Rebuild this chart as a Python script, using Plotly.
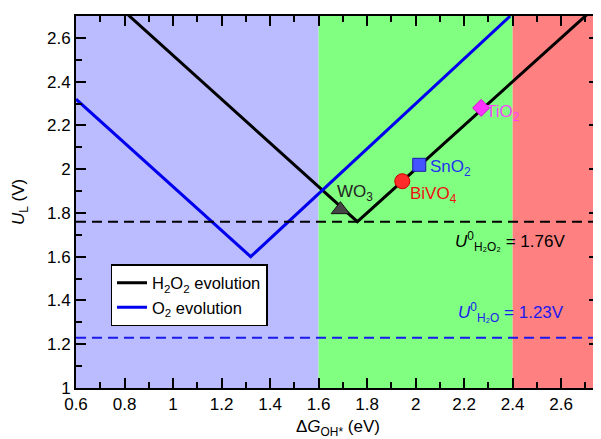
import plotly.graph_objects as go

# ---- data ----
h2o2_x = [0.60, 1.76, 2.76]
h2o2_y = [2.92, 1.76, 2.76]
o2_x = [0.60, 1.32, 2.39]
o2_y = [2.32, 1.60, 2.70]

materials = ["WO3", "BiVO4", "SnO2", "TiO2"]
mat_labels = ["WO<sub>3</sub>", "BiVO<sub>4</sub>", "SnO<sub>2</sub>", "TiO<sub>2</sub>"]
mat_x = [1.69, 1.945, 2.015, 2.27]
mat_y = [1.815, 1.945, 2.02, 2.28]
mat_symbols = ["triangle-up", "circle", "square", "diamond"]
mat_sizes = [16, 15, 13, 13]
mat_colors = ["#444444", "#ff2a2a", "#4455ff", "#ff33ff"]
mat_edge = ["#111111", "#cc0000", "#1a1aaa", "#dd00dd"]
mat_text_colors = ["#222222", "#ee1111", "#2233ee", "#ff44ff"]
mat_label_x = [1.75, 2.075, 2.145, 2.36]
mat_label_y = [1.89, 1.88, 2.005, 2.255]

u_h2o2 = 1.76
u_h2o = 1.23

region_edges = [0.6, 1.6, 2.4, 2.76]
region_colors = ["#bbbbff", "#80ff80", "#ff8080"]

x_range = [0.6, 2.756]
y_range = [1.0, 2.7]

FONT = "Liberation Sans, Arial, Helvetica, sans-serif"

fig = go.Figure()

for i, c in enumerate(region_colors):
    fig.add_shape(type="rect", xref="x", yref="y",
                  x0=region_edges[i], x1=region_edges[i + 1],
                  y0=y_range[0], y1=y_range[1],
                  fillcolor=c, line_width=0, layer="below")

fig.add_hline(y=u_h2o2, line=dict(color="black", width=2, dash="10px,6px"))
fig.add_hline(y=u_h2o, line=dict(color="#1a1aee", width=2, dash="10px,6px"))

fig.add_trace(go.Scatter(x=h2o2_x, y=h2o2_y, mode="lines",
                         line=dict(color="black", width=3),
                         name="H<sub>2</sub>O<sub>2</sub> evolution"))
fig.add_trace(go.Scatter(x=o2_x, y=o2_y, mode="lines",
                         line=dict(color="#0000ee", width=3),
                         name="O<sub>2</sub> evolution"))

for i, m in enumerate(materials):
    fig.add_trace(go.Scatter(x=[mat_x[i]], y=[mat_y[i]], mode="markers",
                             marker=dict(symbol=mat_symbols[i], size=mat_sizes[i],
                                         color=mat_colors[i],
                                         line=dict(color=mat_edge[i], width=1)),
                             showlegend=False, name=m))
    fig.add_annotation(x=mat_label_x[i], y=mat_label_y[i], xref="x", yref="y",
                       text=mat_labels[i], showarrow=False,
                       font=dict(size=17, color=mat_text_colors[i], family=FONT))

fig.add_annotation(x=2.155, y=1.67, xref="x", yref="y", xanchor="left",
                   text="<i>U</i><sup>0</sup><sub>H₂O₂</sub> = %.2fV" % u_h2o2,
                   showarrow=False, font=dict(size=17, color="black", family=FONT))
fig.add_annotation(x=2.165, y=1.345, xref="x", yref="y", xanchor="left",
                   text="<i>U</i><sup>0</sup><sub>H₂O</sub> = %.2fV" % u_h2o,
                   showarrow=False, font=dict(size=17, color="#1a1aee", family=FONT))

# axis titles as annotations for precise placement
fig.add_annotation(x=0.5, y=-0.107, xref="paper", yref="paper",
                   xanchor="center", yanchor="middle",
                   text="Δ<i>G</i><sub>OH*</sub> (eV)", showarrow=False,
                   font=dict(size=17, color="black", family=FONT))
fig.add_annotation(x=-0.107, y=0.5, xref="paper", yref="paper",
                   xanchor="center", yanchor="middle", textangle=-90,
                   text="<i>U</i><sub>L</sub> (V)", showarrow=False,
                   font=dict(size=17, color="black", family=FONT))

axis_common = dict(showline=True, linecolor="black", linewidth=2, mirror="ticks",
                   ticks="inside", ticklen=10, tickwidth=2, tickcolor="black",
                   showgrid=False, zeroline=False,
                   tickfont=dict(size=17, color="black", family=FONT),
                   minor=dict(ticks="inside", ticklen=6, tickwidth=2, tickcolor="black",
                              dtick=0.1, showgrid=False))

fig.update_xaxes(range=x_range, tick0=0.6, dtick=0.2, ticklabelstandoff=0,
                 **axis_common)
fig.update_yaxes(range=y_range, tick0=1.0, dtick=0.2, ticklabelstandoff=0,
                 **axis_common)

# page body has an 8px default margin; size the figure to fit the 601x439 window
fig.update_layout(width=593, height=431,
                  margin=dict(l=68, r=0, t=8, b=51),
                  paper_bgcolor="white", plot_bgcolor="white",
                  font=dict(family=FONT, color="black"),
                  legend=dict(x=0.066, y=0.333, xanchor="left", yanchor="top",
                              bgcolor="white", bordercolor="black", borderwidth=1.5,
                              font=dict(size=16.5, color="black", family=FONT),
                              itemwidth=30, tracegroupgap=0))

fig.write_html("out.html")
